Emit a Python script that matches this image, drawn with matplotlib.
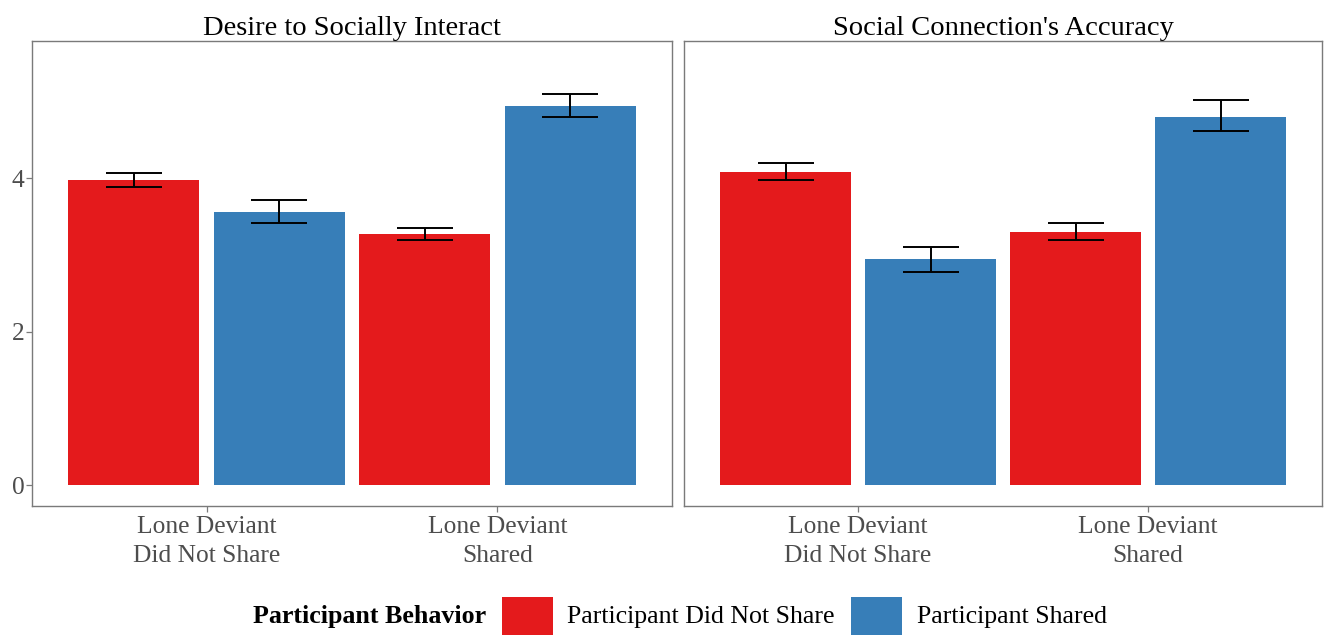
import matplotlib.pyplot as plt
from matplotlib.patches import Rectangle
import numpy as np

# Panel data: means and error bar bounds per condition
panels = ["Desire to Socially Interact", "Social Connection's Accuracy"]
conditions = ["Lone Deviant\nDid Not Share", "Lone Deviant\nShared"]
groups = ["Participant Did Not Share", "Participant Shared"]

# [panel][group][condition]
means = [
    [[3.97, 3.27], [3.56, 4.94]],
    [[4.08, 3.30], [2.94, 4.80]],
]
lower = [
    [[3.88, 3.19], [3.41, 4.80]],
    [[3.97, 3.19], [2.78, 4.61]],
]
upper = [
    [[4.07, 3.35], [3.71, 5.09]],
    [[4.20, 3.41], [3.10, 5.01]],
]

colors = ["#E41A1C", "#377EB8"]
border = "#7a7a7a"
text_gray = "#4d4d4d"

plt.rcParams['font.family'] = ['Liberation Serif', 'DejaVu Serif']

fig = plt.figure(figsize=(13.28, 6.35), dpi=100)
axes = [fig.add_axes([0.0241, 0.2031, 0.4819, 0.7323]),
        fig.add_axes([0.5151, 0.2031, 0.4804, 0.7323])]

x = np.arange(1, len(conditions) + 1)
offsets = [-0.25, 0.25]
bar_w = 0.45

for ax, title, m, lo, hi in zip(axes, panels, means, lower, upper):
    for g in range(len(groups)):
        xs = x + offsets[g]
        ax.bar(xs, m[g], width=bar_w, color=colors[g], zorder=2)
        yerr = [np.array(m[g]) - np.array(lo[g]), np.array(hi[g]) - np.array(m[g])]
        ax.errorbar(xs, m[g], yerr=yerr, fmt='none', ecolor='black',
                    elinewidth=1.4, capsize=20.5, capthick=1.4, zorder=3)
    ax.set_xlim(0.4, 2.6)
    ax.set_ylim(-0.274, 5.785)
    ax.set_xticks(x)
    ax.set_xticklabels(conditions, fontsize=18.4, color=text_gray, linespacing=1.4)
    ax.set_yticks([0, 2, 4])
    ax.tick_params(axis='both', length=4, width=0.9, color=border, pad=1.5)
    ax.tick_params(axis='x', pad=3.5)
    ax.tick_params(axis='y', labelsize=18.4, labelcolor=text_gray)
    for sp in ax.spines.values():
        sp.set_color(border)
        sp.set_linewidth(1.0)
    ax.set_title(title, fontsize=20.5, color='black', pad=3)

axes[1].set_yticks([])

# Legend along the bottom
ly = 617 / 635
fig.text(253 / 1328, 1 - ly, "Participant Behavior", fontsize=18.7, fontweight='bold',
         va='center', ha='left')
key_w, key_h = 51 / 1328, 38 / 635
for xk, xt, lab, col in [(502, 567, groups[0], colors[0]), (851, 917, groups[1], colors[1])]:
    fig.patches.append(Rectangle((xk / 1328, 0.0), key_w, key_h, transform=fig.transFigure,
                                 facecolor=col, edgecolor='none'))
    fig.text(xt / 1328, 1 - ly, lab, fontsize=18.6, va='center', ha='left')

fig.savefig("out.png", dpi=100)
